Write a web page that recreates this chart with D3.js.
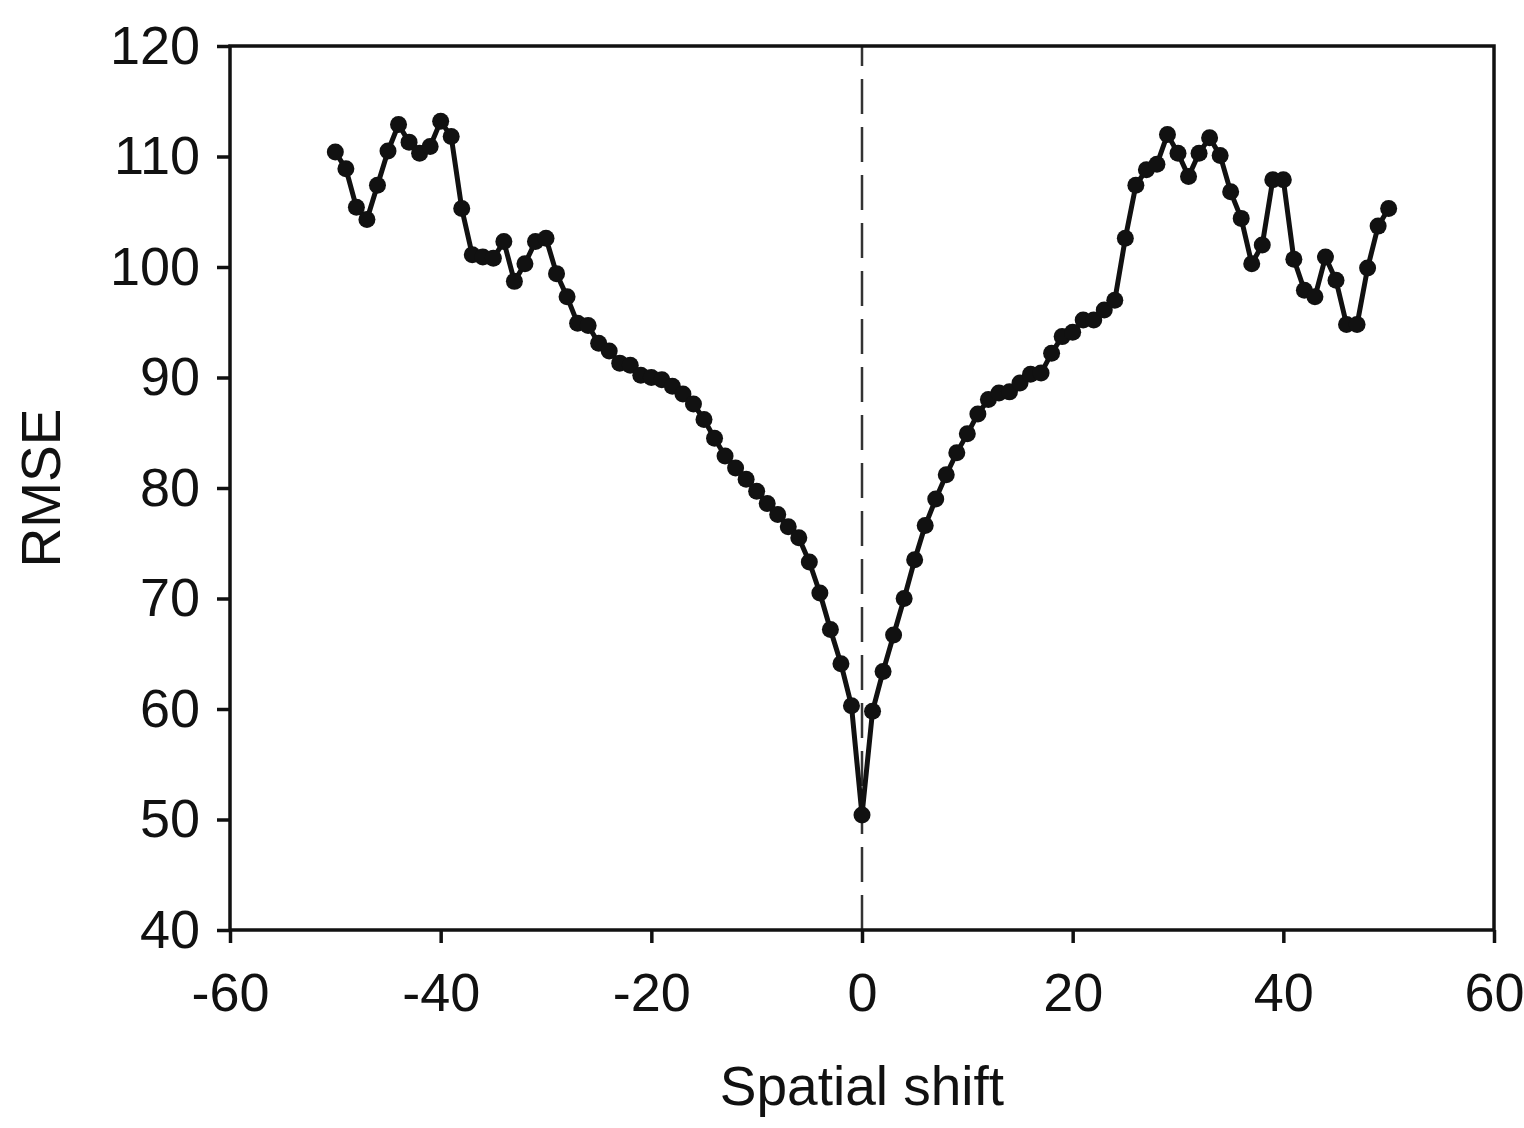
<!DOCTYPE html>
<html>
<head>
<meta charset="UTF-8">
<script src="https://d3js.org/d3.v7.min.js"></script>
<style>
body { margin: 0; background: #fff; }
text { font-family: "Liberation Sans", Arial, sans-serif; fill: #111; }
.axis .domain { display: none; }
.axis line { stroke: #111; stroke-width: 3.5; }
</style>
</head>
<body>
<svg width="1524" height="1128"></svg>
<script>

// spatial shift (x) and RMSE (y)
var shifts = [-50, -49, -48, -47, -46, -45, -44, -43, -42, -41,
              -40, -39, -38, -37, -36, -35, -34, -33, -32, -31,
              -30, -29, -28, -27, -26, -25, -24, -23, -22, -21,
              -20, -19, -18, -17, -16, -15, -14, -13, -12, -11,
              -10, -9, -8, -7, -6, -5, -4, -3, -2, -1,
              0, 1, 2, 3, 4, 5, 6, 7, 8, 9,
              10, 11, 12, 13, 14, 15, 16, 17, 18, 19,
              20, 21, 22, 23, 24, 25, 26, 27, 28, 29,
              30, 31, 32, 33, 34, 35, 36, 37, 38, 39,
              40, 41, 42, 43, 44, 45, 46, 47, 48, 49, 50];

var rmse = [110.4, 108.9, 105.4, 104.3, 107.4, 110.5, 112.9, 111.3, 110.3, 110.9,
            113.2, 111.8, 105.3, 101.1, 100.9, 100.8, 102.3, 98.7, 100.3, 102.3,
            102.6, 99.4, 97.3, 94.9, 94.7, 93.1, 92.4, 91.3, 91.1, 90.2,
            90.0, 89.8, 89.2, 88.5, 87.6, 86.2, 84.5, 82.9, 81.8, 80.8,
            79.7, 78.6, 77.6, 76.5, 75.5, 73.3, 70.5, 67.2, 64.1, 60.3,
            50.4, 59.8, 63.4, 66.7, 70.0, 73.5, 76.6, 79.0, 81.2, 83.2,
            84.9, 86.7, 88.0, 88.6, 88.7, 89.5, 90.3, 90.4, 92.2, 93.7,
            94.1, 95.2, 95.2, 96.1, 97.0, 102.6, 107.4, 108.8, 109.3, 112.0,
            110.3, 108.2, 110.3, 111.7, 110.1, 106.8, 104.4, 100.3, 102.0, 107.9,
            107.9, 100.7, 97.9, 97.3, 100.9, 98.8, 94.8, 94.8, 99.9, 103.7, 105.3];

var xTicks = [-60, -40, -20, 0, 20, 40, 60];
var yTicks = [40, 50, 60, 70, 80, 90, 100, 110, 120];

var svg = d3.select("svg"),
    margin = {top: 46, right: 30, bottom: 198, left: 230},
    width = +svg.attr("width") - margin.left - margin.right,
    height = +svg.attr("height") - margin.top - margin.bottom,
    g = svg.append("g").attr("transform", "translate(" + margin.left + "," + margin.top + ")");

var x = d3.scaleLinear().domain([-60, 60]).range([0, width]);
var y = d3.scaleLinear().domain([40, 120]).range([height, 0]);

var data = shifts.map(function(s, i) { return {x: s, y: rmse[i]}; });

// plain hyphen for negatives, like the original
var fmt = function(d) { return String(d); };

// zero-shift reference line
g.append("line")
    .attr("x1", x(0)).attr("x2", x(0))
    .attr("y1", 0).attr("y2", height)
    .attr("stroke", "#333")
    .attr("stroke-width", 2.5)
    .attr("stroke-dasharray", "35,13")
    .attr("stroke-dashoffset", 15);

g.append("g")
    .attr("class", "axis")
    .call(d3.axisLeft(y).tickValues(yTicks).tickFormat(fmt).tickSize(13).tickPadding(17))
    .selectAll("text").attr("font-size", 54).attr("fill", "#111");

g.append("g")
    .attr("class", "axis")
    .attr("transform", "translate(0," + height + ")")
    .call(d3.axisBottom(x).tickValues(xTicks).tickFormat(fmt).tickSize(13).tickPadding(30))
    .selectAll("text").attr("font-size", 54).attr("fill", "#111");

// frame
g.append("rect")
    .attr("width", width).attr("height", height)
    .attr("fill", "none")
    .attr("stroke", "#111")
    .attr("stroke-width", 3.5);

var line = d3.line()
    .x(function(d) { return x(d.x); })
    .y(function(d) { return y(d.y); });

g.append("path")
    .datum(data)
    .attr("fill", "none")
    .attr("stroke", "#111")
    .attr("stroke-width", 5)
    .attr("stroke-linejoin", "round")
    .attr("d", line);

g.selectAll(".dot")
    .data(data)
    .enter().append("circle")
    .attr("class", "dot")
    .attr("cx", function(d) { return x(d.x); })
    .attr("cy", function(d) { return y(d.y); })
    .attr("r", 8.5)
    .attr("fill", "#111");

svg.append("text")
    .attr("x", margin.left + width / 2)
    .attr("y", 1105)
    .attr("text-anchor", "middle")
    .attr("font-size", 55)
    .text("Spatial shift");

svg.append("text")
    .attr("transform", "translate(60," + (margin.top + height / 2) + ") rotate(-90)")
    .attr("text-anchor", "middle")
    .attr("font-size", 55)
    .text("RMSE");

</script>
</body>
</html>
